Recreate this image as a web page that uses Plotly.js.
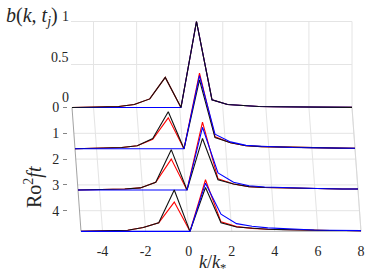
<!DOCTYPE html>
<html><head><meta charset="utf-8">
<script src="https://cdn.plot.ly/plotly-3.0.1.min.js"></script>
<style>html,body{margin:0;padding:0;background:#fff}#chart{width:374px;height:275px}</style>
</head><body><div id="chart"></div>
<script>
// ---------- data ----------
const kVals = [-5, -4.28, -3.56, -2.83, -2.11, -1.39, -0.67, 0.06, 0.78, 1.5, 2.22, 2.94, 3.67, 4.39, 5.11, 5.83, 6.56, 7.28, 8];
const times = [0, 1.6, 3.2, 4.8];
const timeTicks = [0, 1, 2, 3, 4];
const kTicks = [-4, -2, 0, 2, 4, 6, 8];
const zTicks = [0, 0.5, 1];
const zTickText = ['0', '0.5', '1'];

const black_t0 = [0, 0.002, 0.005, 0.012, 0.035, 0.10, 0.35, 0, 1.0, 0.09, 0.035, 0.02, 0.012, 0.008, 0.005, 0.004, 0.003, 0.002, 0.001];
const red_t0   = [0, 0.002, 0.005, 0.012, 0.035, 0.10, 0.35, 0, 1.0, 0.09, 0.035, 0.02, 0.012, 0.008, 0.005, 0.004, 0.003, 0.002, 0.001];
const blue_t0  = [0, 0, 0, 0, 0, 0, 0, 0, 1.0, 0.09, 0.035, 0.02, 0.012, 0.008, 0.005, 0.004, 0.003, 0.002, 0.001];

const black_t1 = [0, 0.003, 0.008, 0.015, 0.035, 0.12, 0.43, 0, 0.80, 0.13, 0.07, 0.035, 0.025, 0.02, 0.015, 0.012, 0.01, 0.008, 0.007];
const red_t1   = [0, 0.003, 0.008, 0.015, 0.035, 0.11, 0.36, 0, 0.88, 0.14, 0.07, 0.035, 0.025, 0.02, 0.015, 0.012, 0.01, 0.008, 0.007];
const blue_t1  = [0, 0, 0, 0, 0, 0, 0, 0, 0.85, 0.17, 0.08, 0.04, 0.03, 0.02, 0.015, 0.012, 0.01, 0.008, 0.007];

const black_t2 = [0, 0.003, 0.007, 0.013, 0.025, 0.09, 0.47, 0, 0.60, 0.12, 0.07, 0.04, 0.03, 0.025, 0.02, 0.018, 0.015, 0.013, 0.012];
const red_t2   = [0, 0.003, 0.007, 0.013, 0.025, 0.09, 0.36, 0, 0.79, 0.13, 0.07, 0.04, 0.03, 0.025, 0.02, 0.018, 0.015, 0.013, 0.012];
const blue_t2  = [0, 0, 0, 0, 0, 0, 0, 0, 0.73, 0.20, 0.09, 0.05, 0.035, 0.028, 0.022, 0.018, 0.015, 0.013, 0.012];

const black_t3 = [0, 0.003, 0.007, 0.013, 0.045, 0.10, 0.48, 0, 0.51, 0.10, 0.05, 0.035, 0.025, 0.02, 0.015, 0.012, 0.01, 0.01, 0.008];
const red_t3   = [0, 0.003, 0.007, 0.013, 0.045, 0.10, 0.34, 0, 0.60, 0.11, 0.055, 0.035, 0.025, 0.02, 0.015, 0.012, 0.01, 0.01, 0.008];
const blue_t3  = [0, 0, 0, 0, 0, 0, 0, 0, 0.56, 0.20, 0.09, 0.06, 0.04, 0.03, 0.02, 0.015, 0.012, 0.01, 0.008];

const blackSeries = [black_t0, black_t1, black_t2, black_t3];
const redSeries   = [red_t0, red_t1, red_t2, red_t3];
const blueSeries  = [blue_t0, blue_t1, blue_t2, blue_t3];

// ---------- geometry (pixel layout of the pseudo-3D box) ----------
const W = 374, H = 275;
const K_MIN = -5, K_MAX = 8;
const X_LEFT_FRONT = 81, X_RIGHT_FRONT = 361, BACK_SHIFT = -9;
const BASE0 = 107.5, PX_PER_T = 25.8, PX_PER_Z = 86;
const Z_LO = -0.1, Z_HI = 1.1;
const T_MAX = times[times.length - 1];

const basePx = t => BASE0 + PX_PER_T * t;
const shiftPx = t => BACK_SHIFT * (T_MAX - t) / T_MAX;
const kPx = (k, t) => X_LEFT_FRONT + shiftPx(t) + (k - K_MIN) / (K_MAX - K_MIN) * (X_RIGHT_FRONT - X_LEFT_FRONT);
const px2x = p => p / W;
const px2y = p => (H - p) / H;

const FONT = 'Liberation Serif';
const TXT = '#262626';
const GRID = '#e4e4e4';

const layout = {
  width: W, height: H,
  margin: {l: 0, r: 0, t: 0, b: 0},
  paper_bgcolor: '#ffffff',
  plot_bgcolor: 'rgba(0,0,0,0)',
  showlegend: false,
  font: {family: FONT, size: 13, color: TXT},
  shapes: [],
  annotations: []
};

const traces = [];
times.forEach((t, i) => {
  const sx = i === 0 ? '' : String(i + 1);
  const s = shiftPx(t), b = basePx(t);
  layout['xaxis' + sx] = {
    domain: [px2x(X_LEFT_FRONT + s), px2x(X_RIGHT_FRONT + s)],
    range: [K_MIN, K_MAX], visible: false, fixedrange: true, anchor: 'y' + sx
  };
  layout['yaxis' + sx] = {
    domain: [px2y(b - Z_LO * PX_PER_Z), px2y(b - Z_HI * PX_PER_Z)],
    range: [Z_LO, Z_HI], visible: false, fixedrange: true, anchor: 'x' + sx
  };
  const mk = (arr, col, w) => ({
    type: 'scatter', mode: 'lines', x: kVals, y: arr,
    xaxis: 'x' + sx, yaxis: 'y' + sx,
    line: {color: col, width: w}, hoverinfo: 'skip'
  });
  traces.push(mk(redSeries[i], '#ff0000', 1.1));
  if (i === 0) {
    traces.push(mk(blueSeries[i], '#0000ff', 1.1));
    traces.push(mk(blackSeries[i], '#111111', 1.1));
  } else {
    traces.push(mk(blackSeries[i], '#111111', 1.1));
    traces.push(mk(blueSeries[i], '#0000ff', 1.1));
  }
});

// front x axis carries tick labels
const frontIdx = String(times.length);
Object.assign(layout['xaxis' + frontIdx], {
  visible: true, anchor: 'free', position: px2y(basePx(T_MAX)),
  tickvals: kTicks, ticktext: kTicks.map(String), ticks: '', showgrid: false,
  zeroline: false, showline: false, ticklabelstandoff: 10,
  tickfont: {family: FONT, size: 14, color: TXT}
});

// time axis (left)
const tTop = (0 - BASE0) / PX_PER_T, tBot = (H - BASE0) / PX_PER_T;
layout.yaxis5 = {
  domain: [0, 1], range: [tBot, tTop], anchor: 'free', position: px2x(67),
  side: 'left', tickvals: timeTicks, ticktext: timeTicks.map(String),
  ticks: 'outside', ticklen: 4, tickcolor: '#666', tickwidth: 0.8,
  showgrid: false, zeroline: false, showline: false, fixedrange: true,
  ticklabelstandoff: 1,
  tickfont: {family: FONT, size: 14, color: TXT}
};
traces.push({type: 'scatter', x: [null], y: [null], xaxis: 'x' + frontIdx, yaxis: 'y5', hoverinfo: 'skip'});

// z axis labels (left, on back wall)
const Z_LBL0 = 98, Z_LBL_PX = 81, Z_LBL_RIGHT = 71;
zTicks.forEach((z, i) => layout.annotations.push({
  text: zTickText[i], xref: 'paper', yref: 'paper',
  x: px2x(Z_LBL_RIGHT), y: px2y(Z_LBL0 - z * Z_LBL_PX), xanchor: 'right', yanchor: 'middle',
  showarrow: false, font: {family: FONT, size: 14, color: TXT}
}));

// ---------- box & grid shapes ----------
const line = (x0, y0, x1, y1, col, w) => ({
  type: 'line', xref: 'paper', yref: 'paper', layer: 'below',
  x0: px2x(x0), y0: px2y(y0), x1: px2x(x1), y1: px2y(y1), line: {color: col, width: w}
});
const b0 = basePx(0), bF = basePx(T_MAX);
[0.5, 1].forEach(z => layout.shapes.push(line(kPx(K_MIN, 0) - 1, b0 - z * PX_PER_Z, kPx(K_MAX, 0), b0 - z * PX_PER_Z, GRID, 1)));
kTicks.forEach(k => layout.shapes.push(line(kPx(k, 0), b0, kPx(k, 0), b0 - PX_PER_Z, GRID, 1)));
timeTicks.slice(1).forEach(t => layout.shapes.push(line(kPx(K_MIN, t), basePx(t), kPx(K_MAX, t), basePx(t), GRID, 1)));
kTicks.forEach(k => layout.shapes.push(line(kPx(k, 0), b0, kPx(k, T_MAX), bF, GRID, 1)));
layout.shapes.push(line(kPx(K_MIN, 0), b0, kPx(K_MIN, T_MAX), bF, '#8a8a8a', 0.8));
layout.shapes.push(line(kPx(K_MAX, 0), b0, kPx(K_MAX, T_MAX), bF, '#d4d4d4', 0.8));
layout.shapes.push(line(kPx(K_MIN, T_MAX), bF, kPx(K_MAX, T_MAX), bF, '#9a9a9a', 0.8));

// ---------- titles ----------
layout.annotations.push({
  text: '<i>b</i>(<i>k</i>, <i>t<sub>j</sub></i>)', xref: 'paper', yref: 'paper',
  x: px2x(4), y: px2y(16), xanchor: 'left', yanchor: 'middle', showarrow: false,
  font: {family: FONT, size: 20, color: TXT}
});
layout.annotations.push({
  text: 'Ro<sup>2</sup><i>ft</i>', xref: 'paper', yref: 'paper',
  x: px2x(34), y: px2y(187), xanchor: 'center', yanchor: 'middle', showarrow: false,
  textangle: -90, font: {family: FONT, size: 20, color: TXT}
});
layout.annotations.push({
  text: '<i>k</i>/<i>k</i><sub>*</sub>', xref: 'paper', yref: 'paper',
  x: px2x(212), y: px2y(263), xanchor: 'center', yanchor: 'middle', showarrow: false,
  font: {family: FONT, size: 18, color: TXT}
});

Plotly.newPlot('chart', traces, layout, {staticPlot: true, displayModeBar: false});
</script></body></html>
